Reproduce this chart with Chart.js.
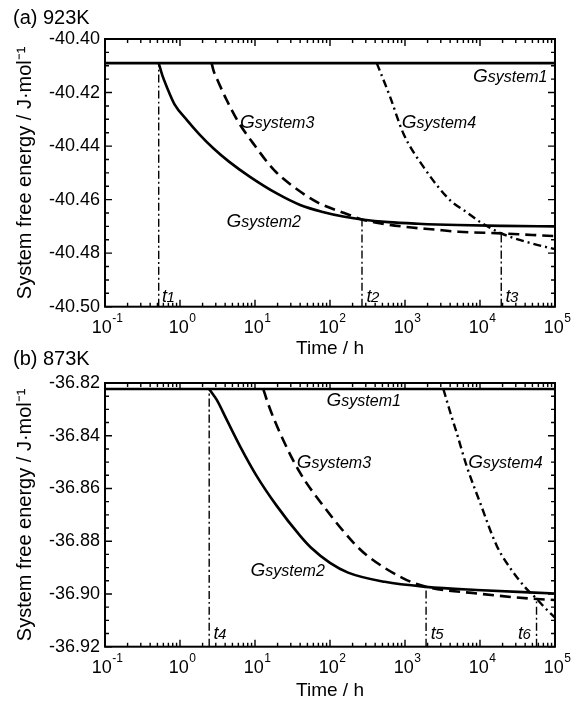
<!DOCTYPE html>
<html>
<head>
<meta charset="utf-8">
<script src="https://cdn.jsdelivr.net/npm/chart.js@4.4.1/dist/chart.umd.min.js"></script>
<style>
  html, body { margin: 0; padding: 0; background: #fff; }
  #wrap { position: relative; width: 576px; height: 706px; overflow: hidden; }
  canvas { position: absolute; left: 0; }
  #chartA { top: 0; }
  #chartB { top: 344px; }
</style>
</head>
<body>
<div id="wrap">
  <canvas id="chartA" width="576" height="362"></canvas>
  <canvas id="chartB" width="576" height="362"></canvas>
</div>
<script>
const FONT = '"Liberation Sans", Arial, Helvetica, sans-serif';

// x axis decades (10^-1 .. 10^5), shared by both panels
const xExponents = [-1, 0, 1, 2, 3, 4, 5];

// ---------- (a) 923K ----------
const yMinA = -40.50, yMaxA = -40.40;
const timeG1a = [0.1, 100000];
const valG1a  = [-40.409, -40.409];
const timeG2a = [0.52, 0.58, 0.665, 0.85, 1.23, 1.8, 2.78, 4.5, 8.58, 19.5, 40, 80, 150, 267, 600, 1500, 5000, 20000, 100000];
const valG2a  = [-40.409, -40.4135, -40.4178, -40.4245, -40.4302, -40.4355, -40.4408, -40.4458, -40.4515, -40.4577, -40.4620, -40.4646, -40.4663, -40.4674, -40.4684, -40.4690, -40.4695, -40.4698, -40.4700];
const timeG3a = [2.64, 2.78, 3.3, 4.19, 6, 9.4, 18, 32, 70, 155, 267, 500, 950, 2500, 5200, 19200, 50000, 100000];
const valG3a  = [-40.409, -40.4115, -40.4165, -40.4228, -40.4310, -40.4389, -40.4490, -40.4550, -40.4612, -40.4650, -40.4674, -40.4690, -40.4701, -40.4712, -40.4720, -40.4726, -40.4732, -40.4736];
const timeG4a = [420, 520, 631, 948, 1754, 3980, 6500, 10200, 19200, 44000, 100000];
const valG4a  = [-40.409, -40.4155, -40.4215, -40.4352, -40.4477, -40.4602, -40.4645, -40.4685, -40.4726, -40.4760, -40.4785];
// t1..t3 vertical markers: time and the value they reach
const markTimeA = [0.52, 267, 19200];
const markTopA  = [-40.409, -40.4674, -40.4726];
const markNameA = ['1', '2', '3'];
const markLabelTimeA = [0.575, 307, 21900];
const markLabelValA  = -40.4983;
// curve labels (left end / baseline)
const curveLabelA = ['system1', 'system2', 'system3', 'system4'];
const curveLabelTimeA = [8070, 4.17, 6.3, 903];
const curveLabelValA  = [-40.4159, -40.4702, -40.4332, -40.4332];

// ---------- (b) 873K ----------
const yMinB = -36.92, yMaxB = -36.82;
const timeG1b = [0.1, 100000];
const valG1b  = [-36.8223, -36.8223];
const timeG2b = [2.45, 2.7, 3.08, 4.19, 6.3, 10.5, 19.5, 39.8, 56, 100, 174, 537, 1910, 9000, 100000];
const valG2b  = [-36.8223, -36.8240, -36.8263, -36.8339, -36.8439, -36.8552, -36.8666, -36.8779, -36.8825, -36.8882, -36.8919, -36.8954, -36.8973, -36.8985, -36.8998];
const timeG3b = [12.9, 15, 21.5, 39.8, 81.5, 205, 306, 948, 1910, 9100, 44300, 100000];
const valG3b  = [-36.8223, -36.8280, -36.8389, -36.8540, -36.8666, -36.8805, -36.8852, -36.8941, -36.8973, -36.8998, -36.9017, -36.9023];
const timeG4b = [3250, 4000, 4890, 6640, 10000, 16700, 25000, 40000, 56700, 75000, 100000];
const valG4b  = [-36.8223, -36.8310, -36.8389, -36.8515, -36.8653, -36.8817, -36.8900, -36.8975, -36.9018, -36.9055, -36.9090];
const markTimeB = [2.45, 1910, 56700];
const markTopB  = [-36.8223, -36.8973, -36.9018];
const markNameB = ['4', '5', '6'];
const markLabelTimeB = [2.8, 2210, 32100];
const markLabelValB  = -36.9169;
const curveLabelB = ['system1', 'system2', 'system3', 'system4'];
const curveLabelTimeB = [90, 8.7, 36, 6980];
const curveLabelValB  = [-36.8288, -36.8930, -36.8523, -36.8523];

function pts(ts, vs) {
  return ts.map((t, i) => ({ x: t, y: vs[i] }));
}

function curve(ts, vs, dash, width) {
  return {
    data: pts(ts, vs),
    showLine: true,
    borderColor: '#000',
    borderWidth: width,
    borderDash: dash,
    borderCapStyle: 'butt',
    pointRadius: 0,
    fill: false,
    cubicInterpolationMode: 'monotone'
  };
}

// frame, inward ticks, x labels with exponents, curve labels, panel title
const panelPlugin = {
  id: 'panel',
  afterDatasetsDraw(chart, args, o) {
    const { ctx, chartArea: a, scales: { x, y } } = chart;
    ctx.save();
    ctx.strokeStyle = '#000';
    ctx.fillStyle = '#000';
    ctx.setLineDash([]);

    // ticks
    ctx.lineWidth = 1.4;
    ctx.beginPath();
    xExponents.forEach(e => {
      for (let k = 1; k <= 9; k++) {
        const v = k * Math.pow(10, e);
        if (v > x.max * 1.0001) break;
        const px = x.getPixelForValue(v);
        const len = k === 1 ? 7 : 4;
        ctx.moveTo(px, a.bottom); ctx.lineTo(px, a.bottom - len);
        ctx.moveTo(px, a.top); ctx.lineTo(px, a.top + len);
      }
    });
    const steps = Math.round((y.max - y.min) / 0.005);
    for (let i = 0; i <= steps; i++) {
      const py = y.getPixelForValue(y.min + i * 0.005);
      const len = i % 4 === 0 ? 7 : 4;
      ctx.moveTo(a.left, py); ctx.lineTo(a.left + len, py);
      ctx.moveTo(a.right, py); ctx.lineTo(a.right - len, py);
    }
    ctx.stroke();

    // frame
    ctx.lineWidth = 2;
    ctx.strokeRect(a.left, a.top, a.right - a.left, a.bottom - a.top);

    // x tick labels 10^n
    ctx.textBaseline = 'alphabetic';
    ctx.textAlign = 'left';
    xExponents.forEach(e => {
      const px = x.getPixelForValue(Math.pow(10, e));
      const exp = String(e);
      ctx.font = '18px ' + FONT;
      const wb = ctx.measureText('10').width;
      ctx.font = '12px ' + FONT;
      const we = ctx.measureText(exp).width;
      const x0 = px - (wb + we) / 2 + 2;
      ctx.font = '18px ' + FONT;
      ctx.fillText('10', x0, a.bottom + 26.5);
      ctx.font = '12px ' + FONT;
      ctx.fillText(exp, x0 + wb + 0.5, a.bottom + 15);
    });

    // curve labels G_system
    o.curveNames.forEach((name, i) => {
      const px = x.getPixelForValue(o.curveTimes[i]);
      const py = y.getPixelForValue(o.curveVals[i]);
      ctx.font = 'italic 19px ' + FONT;
      ctx.fillText('G', px, py);
      const wg = ctx.measureText('G').width;
      ctx.font = 'italic 16px ' + FONT;
      ctx.fillText(name, px + wg, py);
    });

    // t labels
    o.markNames.forEach((n, i) => {
      const px = x.getPixelForValue(o.markLabelTimes[i]);
      const py = y.getPixelForValue(o.markLabelVal);
      ctx.font = 'italic 18px ' + FONT;
      ctx.fillText('t', px, py);
      const wt = ctx.measureText('t').width;
      ctx.font = 'italic 15px ' + FONT;
      ctx.fillText(n, px + wt - 0.5, py);
    });

    // panel title
    ctx.font = '20px ' + FONT;
    ctx.fillText(o.title, 13, o.titleY);
    ctx.restore();
  }
};

function makePanel(id, cfg) {
  const datasets = [];
  cfg.markTimes.forEach((t, i) => {
    datasets.push(curve([t, t], [cfg.yMin, cfg.markTops[i]], [8, 3, 2, 3], 1.4));
  });
  datasets.push(curve(cfg.g1[0], cfg.g1[1], [], 2.6));
  datasets.push(curve(cfg.g2[0], cfg.g2[1], [], 2.6));
  datasets.push(curve(cfg.g3[0], cfg.g3[1], [11, 6], 2.6));
  datasets.push(curve(cfg.g4[0], cfg.g4[1], [8, 4, 2, 4], 2.4));

  return new Chart(document.getElementById(id), {
    type: 'scatter',
    data: { datasets },
    plugins: [panelPlugin],
    options: {
      responsive: false,
      animation: false,
      devicePixelRatio: 1,
      layout: { padding: { left: 0, right: 21, top: 39, bottom: 0 } },
      plugins: {
        legend: { display: false },
        tooltip: { enabled: false },
        panel: {
          title: cfg.title, titleY: cfg.titleY,
          curveNames: cfg.curveNames, curveTimes: cfg.curveTimes, curveVals: cfg.curveVals,
          markNames: cfg.markNames, markLabelTimes: cfg.markLabelTimes, markLabelVal: cfg.markLabelVal
        }
      },
      scales: {
        x: {
          type: 'logarithmic',
          min: 0.1,
          max: 100000,
          ticks: { display: false },
          grid: { display: false, drawTicks: false },
          border: { display: false },
          title: {
            display: true, text: 'Time / h', color: '#000',
            font: { family: FONT, size: 19 }, padding: { top: 0, bottom: cfg.xTitlePad }
          },
          afterFit(s) { s.height = cfg.bottomH; }
        },
        y: {
          type: 'linear',
          min: cfg.yMin,
          max: cfg.yMax,
          ticks: {
            stepSize: 0.02, color: '#000', padding: 5,
            font: { family: FONT, size: 18 },
            callback: v => v.toFixed(2)
          },
          grid: { display: false, drawTicks: false },
          border: { display: false },
          title: {
            display: true, text: 'System free energy / J\u00B7mol\u207B\u00B9', color: '#000',
            font: { family: FONT, size: 20 }, padding: { top: 13, bottom: 0 }
          },
          afterFit(s) { s.width = 105; }
        }
      }
    }
  });
}

makePanel('chartA', {
  title: '(a) 923K', titleY: 24, yMin: yMinA, yMax: yMaxA, bottomH: 55.3, xTitlePad: 2,
  g1: [timeG1a, valG1a], g2: [timeG2a, valG2a], g3: [timeG3a, valG3a], g4: [timeG4a, valG4a],
  markTimes: markTimeA, markTops: markTopA, markNames: markNameA,
  markLabelTimes: markLabelTimeA, markLabelVal: markLabelValA,
  curveNames: curveLabelA, curveTimes: curveLabelTimeA, curveVals: curveLabelValA
});

makePanel('chartB', {
  title: '(b) 873K', titleY: 21, yMin: yMinB, yMax: yMaxB, bottomH: 59.3, xTitlePad: 4,
  g1: [timeG1b, valG1b], g2: [timeG2b, valG2b], g3: [timeG3b, valG3b], g4: [timeG4b, valG4b],
  markTimes: markTimeB, markTops: markTopB, markNames: markNameB,
  markLabelTimes: markLabelTimeB, markLabelVal: markLabelValB,
  curveNames: curveLabelB, curveTimes: curveLabelTimeB, curveVals: curveLabelValB
});
</script>
</body>
</html>
